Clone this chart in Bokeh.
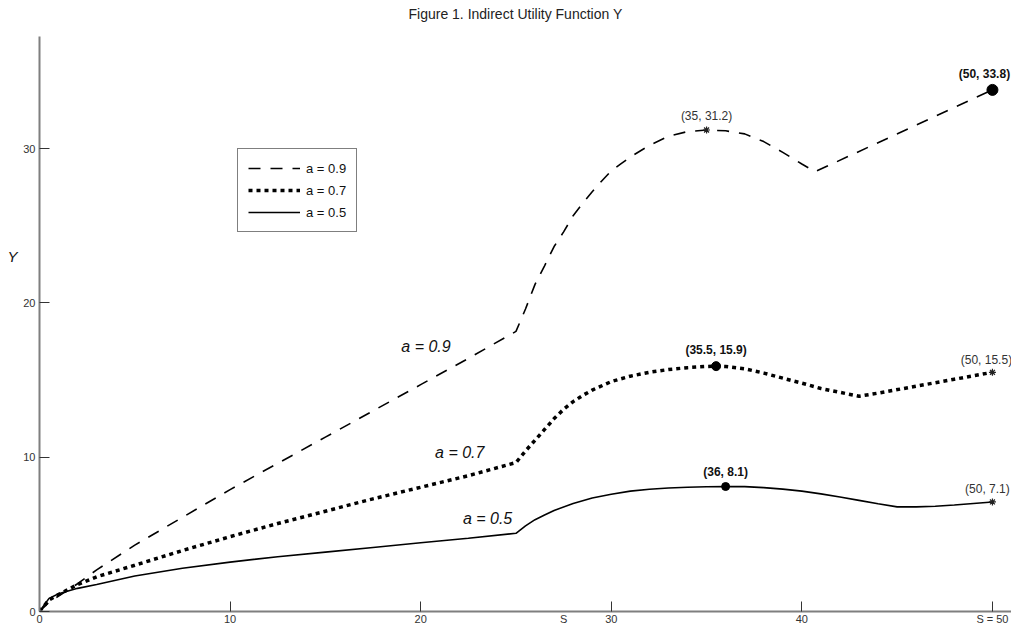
from bokeh.plotting import figure
from bokeh.models import Label, Legend, LegendItem, Range1d, FixedTicker, LinearAxis, Title
from bokeh.embed import file_html
from bokeh.resources import INLINE

# ---------------- data ----------------
title_text = "Figure 1. Indirect Utility Function Y"

s_a09 = [0, 0.5, 1, 2, 3, 5, 7.5, 10, 12.5, 15, 17.5, 20, 22.5, 25, 25.5, 26, 26.5,
         27, 27.5, 28, 28.5, 29, 29.5, 30, 30.5, 31, 32, 33, 34, 35, 36, 37, 38, 39,
         40, 40.7, 50]
y_a09 = [0, 0.6, 1.0, 1.8, 2.7, 4.3, 6.1, 7.9, 9.6, 11.3, 13.0, 14.7, 16.4, 18.15, 19.6,
         21.2, 22.4, 23.65, 24.6, 25.65, 26.45, 27.2, 27.9, 28.55, 29.0, 29.45, 30.2, 30.8,
         31.1, 31.2, 31.15, 30.95, 30.45, 29.75, 29.0, 28.5, 33.8]

s_a07 = [0, 0.5, 1, 2, 3, 5, 7.5, 10, 12.5, 15, 17.5, 20, 22.5, 25, 25.5, 26, 26.5, 27,
         27.5, 28, 28.5, 29, 30, 31, 32, 33, 34, 35, 35.5, 36, 37, 38, 39, 40, 41, 42,
         43, 44, 46, 48, 50]
y_a07 = [0, 0.75, 1.1, 1.75, 2.25, 3.0, 3.95, 4.85, 5.7, 6.5, 7.3, 8.05, 8.8, 9.65, 10.4,
         11.1, 11.8, 12.5, 13.1, 13.6, 14.0, 14.35, 14.9, 15.25, 15.5, 15.68, 15.8, 15.88,
         15.9, 15.88, 15.73, 15.45, 15.12, 14.8, 14.45, 14.2, 13.95, 14.15, 14.6, 15.05, 15.5]

s_a05 = [0, 0.5, 1, 2, 3, 5, 7.5, 10, 12.5, 15, 17.5, 20, 22.5, 25, 25.5, 26, 26.5, 27,
         28, 29, 30, 31, 32, 33, 34, 35, 36, 37, 38, 39, 40, 41, 42, 43, 44, 45, 46, 47,
         48, 49, 50]
y_a05 = [0, 0.85, 1.15, 1.5, 1.75, 2.3, 2.8, 3.2, 3.55, 3.85, 4.15, 4.45, 4.75, 5.07, 5.55,
         5.95, 6.25, 6.55, 7.0, 7.35, 7.6, 7.8, 7.92, 8.0, 8.05, 8.08, 8.1, 8.09, 8.03, 7.93,
         7.8, 7.62, 7.42, 7.2, 6.98, 6.78, 6.78, 6.82, 6.9, 7.0, 7.1]

series_labels = ["a = 0.9", "a = 0.7", "a = 0.5"]

# marked points (s, Y) and their texts
dot_s = [50, 35.5, 36]
dot_y = [33.8, 15.9, 8.1]
dot_text = ["(50, 33.8)", "(35.5, 15.9)", "(36, 8.1)"]

star_s = [35, 50, 50]
star_y = [31.2, 15.5, 7.1]
star_text = ["(35, 31.2)", "(50, 15.5)", "(50, 7.1)"]

x_ticks = [0, 10, 20, 30, 40, 50]
x_tick_labels = {50: "S = 50"}
x_title = "S"
x_title_at = 27.5
y_ticks = [0, 10, 20, 30]
y_title = "Y"
y_title_at = 23

FONT = "Liberation Sans"

# ---------------- figure ----------------
p = figure(frame_width=972, frame_height=575,
           x_range=Range1d(0, 51.0), y_range=Range1d(0, 37.26),
           output_backend="svg", toolbar_location=None,
           min_border_left=39, min_border_right=0,
           min_border_top=36, min_border_bottom=15)
p.outline_line_color = None
p.grid.visible = False
p.background_fill_color = "white"

# real title (outer)
p.title.text = title_text
p.title.align = "left"
p.title.offset = 369
p.title.standoff = 4
p.title.text_font = FONT
p.title.text_font_size = "14px"
p.title.text_font_style = "normal"
p.title.text_color = "#222222"
# inner spacer between title and plot area
p.add_layout(Title(text=" ", text_font_size="1px", standoff=10), "above")

r9 = p.line(s_a09, y_a09, line_color="black", line_width=1.6, line_dash="12 10")
r7 = p.line(s_a07, y_a07, line_color="black", line_width=3.5, line_dash="4 4")
r5 = p.line(s_a05, y_a05, line_color="black", line_width=1.6)

# markers
dot_sizes = [11, 9, 8]
for i in range(len(dot_s)):
    p.scatter([dot_s[i]], [dot_y[i]], marker="circle", size=dot_sizes[i],
              fill_color="black", line_color="black")
p.scatter(star_s, star_y, marker="asterisk", size=7, line_color="#222222", line_width=1.2)

# point labels
dot_offsets = [(-8, 16), (0, 16), (0, 15)]
for i in range(len(dot_s)):
    p.add_layout(Label(x=dot_s[i], y=dot_y[i], text=dot_text[i],
                       x_offset=dot_offsets[i][0], y_offset=dot_offsets[i][1],
                       text_align="center", text_baseline="middle",
                       text_font=FONT, text_font_size="12px", text_font_style="bold",
                       text_color="#111111"))
star_offsets = [(0, 14), (-6, 12), (-5, 13)]
for i in range(len(star_s)):
    p.add_layout(Label(x=star_s[i], y=star_y[i], text=star_text[i],
                       x_offset=star_offsets[i][0], y_offset=star_offsets[i][1],
                       text_align="center", text_baseline="middle",
                       text_font=FONT, text_font_size="12px",
                       text_color="#333333"))

# curve annotations
ann_pos = [(20.28, 17.2), (22.05, 10.3), (23.51, 6.03)]
for i, lab in enumerate(series_labels):
    p.add_layout(Label(x=ann_pos[i][0], y=ann_pos[i][1], text=lab,
                       text_align="center", text_baseline="middle",
                       text_font=FONT, text_font_size="16px", text_font_style="italic",
                       text_color="#111111"))

# axes
for ax in (p.xaxis[0], p.yaxis[0]):
    ax.axis_line_color = "#7f7f7f"
    ax.axis_line_width = 2
    ax.major_tick_in = 10
    ax.major_tick_out = 0
    ax.major_tick_line_color = "#333333"
    ax.major_tick_line_width = 1
    ax.minor_tick_line_color = None
    ax.major_label_text_font = FONT
    ax.major_label_text_font_size = "11px"
    ax.major_label_text_color = "#333333"
    ax.major_label_standoff = 4

# x axis: tick marks drawn as "minor" ticks so the axis title can sit in the label row
xa = p.xaxis[0]
xa.ticker = FixedTicker(ticks=x_ticks + [x_title_at], minor_ticks=x_ticks)
xa.major_tick_line_color = None
xa.minor_tick_line_color = "#333333"
xa.minor_tick_line_width = 1
xa.minor_tick_in = 10
xa.minor_tick_out = 0
xa.major_label_standoff = 1
overrides = dict(x_tick_labels)
overrides[x_title_at] = x_title
xa.major_label_overrides = overrides

p.yaxis[0].ticker = FixedTicker(ticks=y_ticks)

# y axis title as an extra, line-less axis
ya2 = LinearAxis(ticker=FixedTicker(ticks=[y_title_at]),
                 major_label_overrides={y_title_at: y_title},
                 axis_line_color=None, major_tick_line_color=None,
                 minor_tick_line_color=None, major_tick_in=0, major_tick_out=0,
                 major_label_standoff=3,
                 major_label_text_font=FONT, major_label_text_font_size="15px",
                 major_label_text_font_style="italic", major_label_text_color="#111111")
p.add_layout(ya2, "left")

# legend
legend = Legend(items=[LegendItem(label=series_labels[0], renderers=[r9]),
                       LegendItem(label=series_labels[1], renderers=[r7]),
                       LegendItem(label=series_labels[2], renderers=[r5])],
                location=(198, 379))
legend.glyph_width = 52
legend.glyph_height = 18
legend.label_height = 18
legend.label_standoff = 6
legend.padding = 10
legend.spacing = 4
legend.margin = 0
legend.border_line_color = "black"
legend.border_line_width = 1.2
legend.label_text_font = FONT
legend.label_text_font_size = "13px"
legend.label_text_color = "#111111"
legend.background_fill_alpha = 1
p.add_layout(legend)

open("out.html", "w").write(file_html(p, INLINE))
